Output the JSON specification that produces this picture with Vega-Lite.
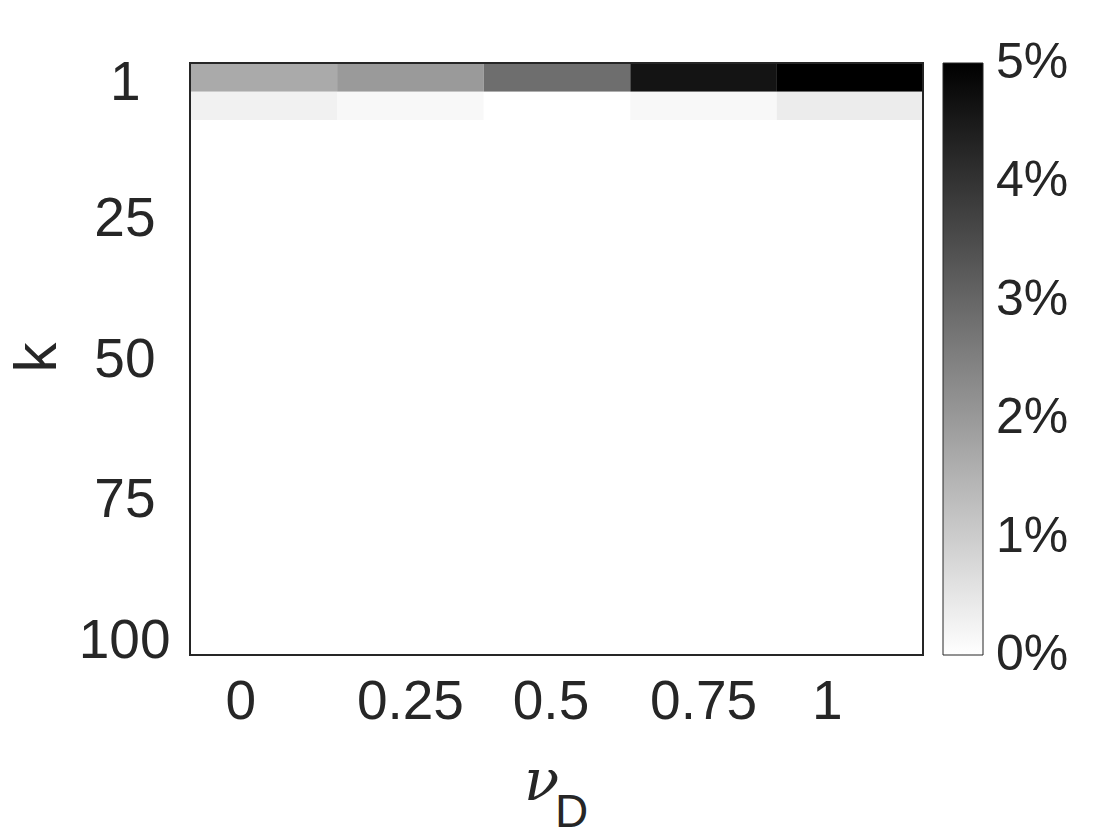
{
  "$schema": "https://vega.github.io/schema/vega-lite/v6.json",
  "width": 733,
  "height": 592,
  "autosize": "none",
  "padding": {"left": 190, "top": 63, "right": 197, "bottom": 185},
  "background": "white",
  "view": {"stroke": null},
  "config": {"font": "Liberation Sans"},
  "title": {"text": "D", "orient": "bottom", "anchor": "middle", "frame": "group", "dx": 15, "offset": -20, "fontSize": 46, "fontWeight": "normal", "font": "Liberation Sans", "color": "#262626"},
  "data": {"values": [
    {"nu":0,"k":0,"v":1.67},{"nu":0.25,"k":0,"v":1.98},{"nu":0.5,"k":0,"v":2.84},{"nu":0.75,"k":0,"v":4.61},{"nu":1,"k":0,"v":5.0},
    {"nu":0,"k":5,"v":0.27},{"nu":0.25,"k":5,"v":0.14},{"nu":0.5,"k":5,"v":0},{"nu":0.75,"k":5,"v":0.14},{"nu":1,"k":5,"v":0.37},
    {"nu":0,"k":10,"v":0},{"nu":0.25,"k":10,"v":0},{"nu":0.5,"k":10,"v":0},{"nu":0.75,"k":10,"v":0},{"nu":1,"k":10,"v":0},
    {"nu":0,"k":15,"v":0},{"nu":0.25,"k":15,"v":0},{"nu":0.5,"k":15,"v":0},{"nu":0.75,"k":15,"v":0},{"nu":1,"k":15,"v":0},
    {"nu":0,"k":20,"v":0},{"nu":0.25,"k":20,"v":0},{"nu":0.5,"k":20,"v":0},{"nu":0.75,"k":20,"v":0},{"nu":1,"k":20,"v":0},
    {"nu":0,"k":25,"v":0},{"nu":0.25,"k":25,"v":0},{"nu":0.5,"k":25,"v":0},{"nu":0.75,"k":25,"v":0},{"nu":1,"k":25,"v":0},
    {"nu":0,"k":30,"v":0},{"nu":0.25,"k":30,"v":0},{"nu":0.5,"k":30,"v":0},{"nu":0.75,"k":30,"v":0},{"nu":1,"k":30,"v":0},
    {"nu":0,"k":35,"v":0},{"nu":0.25,"k":35,"v":0},{"nu":0.5,"k":35,"v":0},{"nu":0.75,"k":35,"v":0},{"nu":1,"k":35,"v":0},
    {"nu":0,"k":40,"v":0},{"nu":0.25,"k":40,"v":0},{"nu":0.5,"k":40,"v":0},{"nu":0.75,"k":40,"v":0},{"nu":1,"k":40,"v":0},
    {"nu":0,"k":45,"v":0},{"nu":0.25,"k":45,"v":0},{"nu":0.5,"k":45,"v":0},{"nu":0.75,"k":45,"v":0},{"nu":1,"k":45,"v":0},
    {"nu":0,"k":50,"v":0},{"nu":0.25,"k":50,"v":0},{"nu":0.5,"k":50,"v":0},{"nu":0.75,"k":50,"v":0},{"nu":1,"k":50,"v":0},
    {"nu":0,"k":55,"v":0},{"nu":0.25,"k":55,"v":0},{"nu":0.5,"k":55,"v":0},{"nu":0.75,"k":55,"v":0},{"nu":1,"k":55,"v":0},
    {"nu":0,"k":60,"v":0},{"nu":0.25,"k":60,"v":0},{"nu":0.5,"k":60,"v":0},{"nu":0.75,"k":60,"v":0},{"nu":1,"k":60,"v":0},
    {"nu":0,"k":65,"v":0},{"nu":0.25,"k":65,"v":0},{"nu":0.5,"k":65,"v":0},{"nu":0.75,"k":65,"v":0},{"nu":1,"k":65,"v":0},
    {"nu":0,"k":70,"v":0},{"nu":0.25,"k":70,"v":0},{"nu":0.5,"k":70,"v":0},{"nu":0.75,"k":70,"v":0},{"nu":1,"k":70,"v":0},
    {"nu":0,"k":75,"v":0},{"nu":0.25,"k":75,"v":0},{"nu":0.5,"k":75,"v":0},{"nu":0.75,"k":75,"v":0},{"nu":1,"k":75,"v":0},
    {"nu":0,"k":80,"v":0},{"nu":0.25,"k":80,"v":0},{"nu":0.5,"k":80,"v":0},{"nu":0.75,"k":80,"v":0},{"nu":1,"k":80,"v":0},
    {"nu":0,"k":85,"v":0},{"nu":0.25,"k":85,"v":0},{"nu":0.5,"k":85,"v":0},{"nu":0.75,"k":85,"v":0},{"nu":1,"k":85,"v":0},
    {"nu":0,"k":90,"v":0},{"nu":0.25,"k":90,"v":0},{"nu":0.5,"k":90,"v":0},{"nu":0.75,"k":90,"v":0},{"nu":1,"k":90,"v":0},
    {"nu":0,"k":95,"v":0},{"nu":0.25,"k":95,"v":0},{"nu":0.5,"k":95,"v":0},{"nu":0.75,"k":95,"v":0},{"nu":1,"k":95,"v":0},
    {"nu":0,"k":100,"v":0},{"nu":0.25,"k":100,"v":0},{"nu":0.5,"k":100,"v":0},{"nu":0.75,"k":100,"v":0},{"nu":1,"k":100,"v":0}
  ]},
  "layer": [
    {
      "mark": {"type": "rect"},
      "encoding": {
        "x": {
          "field": "nu", "type": "quantitative",
          "bin": {"step": 0.25, "extent": [-0.125, 1.125], "nice": false},
          "scale": {"domain": [-0.125, 1.125], "nice": false, "zero": false},
          "axis": {
            "values": [0, 0.25, 0.5, 0.75, 1],
            "labelExpr": "datum.value == 0 ? '0' : datum.value == 0.5 ? '0.5' : datum.value == 1 ? '1' : datum.value == 0.25 ? '0.25' : '0.75'",
            "labelFontSize": 55, "labelColor": "#262626", "labelFont": "Liberation Sans",
            "labelPadding": 20, "labelOverlap": false, "labelFlush": false, "labelBound": false,
            "labelOffset": {"condition": [{"test": "datum.value == 0 || datum.value == 1", "value": -23}, {"test": "datum.value == 0.5", "value": -6}], "value": 0},
            "ticks": false, "domain": false, "grid": false,
            "title": "ν", "titleFont": "DejaVu Serif", "titleFontStyle": "italic", "titleFontWeight": "normal",
            "titleFontSize": 58, "titleColor": "#262626",
            "titleX": 351, "titleY": 144, "titleBaseline": "alphabetic", "titleAlign": "center"
          }
        },
        "y": {
          "field": "k", "type": "quantitative",
          "bin": {"step": 5, "extent": [-2.5, 102.5], "nice": false},
          "scale": {"domain": [-2.5, 102.5], "nice": false, "zero": false, "reverse": true},
          "axis": {
            "values": [1, 25, 50, 75, 100],
            "labelExpr": "datum.value == 1 ? '1' : datum.label",
            "labelFontSize": 55, "labelColor": "#262626", "labelFont": "Liberation Sans",
            "labelPadding": {"condition": [{"test": "datum.value == 1", "value": 50}, {"test": "datum.value == 100", "value": 20}], "value": 35},
            "labelOverlap": false, "labelFlush": false, "labelBound": false,
            "labelBaseline": "middle",
            "ticks": false, "domain": false, "grid": false,
            "title": "k", "titleFont": "Liberation Sans", "titleFontWeight": "normal",
            "titleFontSize": 60, "titleColor": "#262626", "titleAngle": 270,
            "titleX": -135, "titleY": 294, "titleBaseline": "alphabetic", "titleAlign": "center"
          }
        },
        "color": {
          "field": "v", "type": "quantitative",
          "scale": {"domain": [0, 5], "range": ["#ffffff", "#000000"], "interpolate": "rgb", "clamp": true},
          "legend": {
            "title": null, "orient": "right", "offset": 20, "padding": 0,
            "direction": "vertical", "gradientLength": 592, "gradientThickness": 40,
            "gradientStrokeColor": "#262626", "gradientStrokeWidth": 1,
            "values": [0, 1, 2, 3, 4, 5],
            "labelExpr": "datum.value + '%'",
            "labelFontSize": 50, "labelFont": "Liberation Sans", "labelColor": "#262626",
            "labelOffset": 13, "labelOverlap": false,
            "encode": {"labels": {"update": {"baseline": {"value": "middle"}}}}
          }
        }
      }
    },
    {
      "mark": {"type": "rect", "fill": null, "stroke": "#262626", "strokeWidth": 1.2},
      "encoding": {
        "x": {"datum": -0.125, "type": "quantitative"},
        "x2": {"datum": 1.125},
        "y": {"datum": -2.5, "type": "quantitative"},
        "y2": {"datum": 102.5}
      }
    }
  ]
}
